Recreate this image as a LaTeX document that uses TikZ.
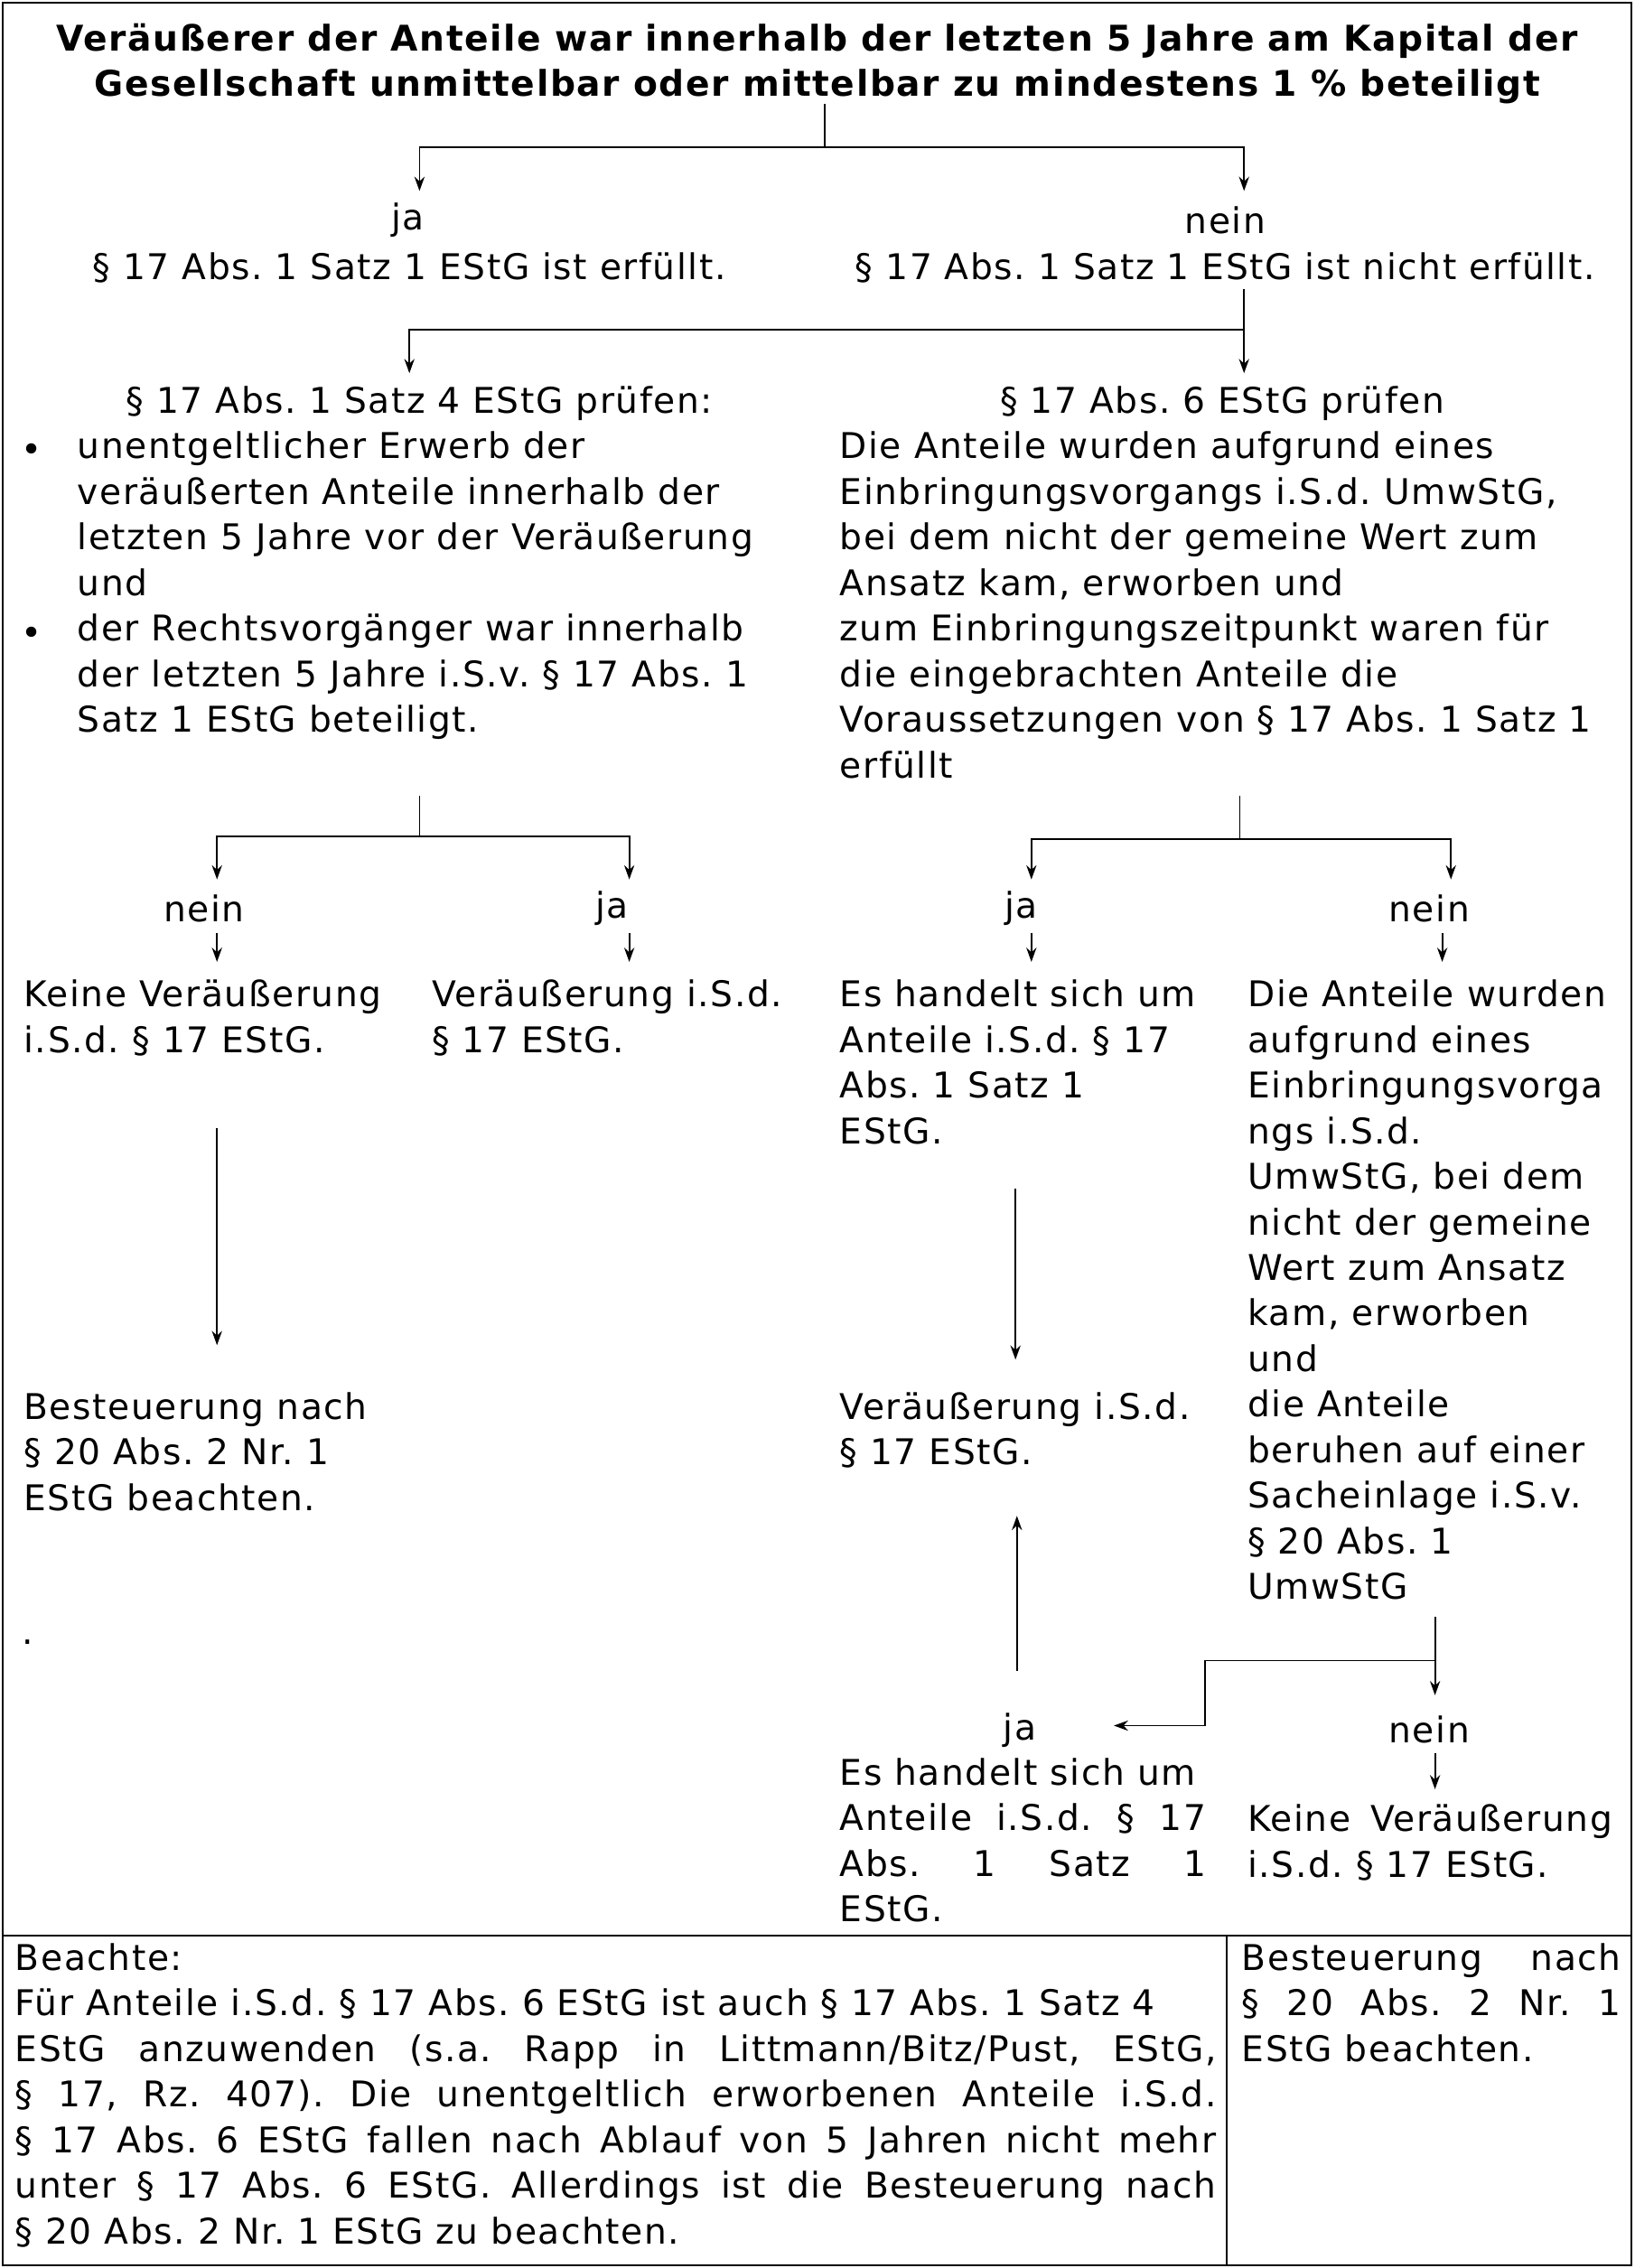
\documentclass[tikz,border=0pt]{standalone}
\usepackage{fontspec}
\setmainfont[LetterSpace=4]{DejaVu Sans}
\usetikzlibrary{arrows.meta}
\newcommand{\jl}[2]{\makebox[#1][s]{#2}}
\frenchspacing

\begin{document}
\begin{tikzpicture}[x=0.025cm, y=-0.025cm, >={Stealth[length=7pt,width=5pt]},
	txt/.style={inner sep=0pt, font=\fontsize{17.4}{22.4}\selectfont},
	blk/.style={txt, anchor=north west, align=left},
	ctr/.style={txt, anchor=center},
	thick]
	\useasboundingbox (0,0) rectangle (1130,1568);
	\draw (2,2) rectangle (1128,1566);
	\draw (2,1338) -- (1128,1338);
	\draw (848,1338) -- (848,1566);
	% title
	\node[txt, align=center, font=\fontsize{17.4}{22.4}\selectfont\bfseries] (title) at (565,44)
	 {Veräußerer der Anteile war innerhalb der letzten 5 Jahre am Kapital der\\Gesellschaft unmittelbar oder mittelbar zu mindestens 1 \% beteiligt};
	\draw (570,72)--(570,102);
	\draw[->] (570,102)--(290,102)--(290,132);
	\draw[->] (570,102)--(860,102)--(860,132);
	\node[ctr] (ja1) at (282,152) {ja};
	\node[ctr] (erf) at (283,185) {§ 17 Abs. 1 Satz 1 EStG ist erfüllt.};
	\node[ctr] (nein1) at (847,152) {nein};
	\node[ctr] (nerf) at (847,185) {§ 17 Abs. 1 Satz 1 EStG ist nicht erfüllt.};
	\draw (860,200)--(860,228);
	\draw[->] (860,228)--(283,228)--(283,258);
	\draw[->] (860,228)--(860,258);
	% left check
	\node[ctr] (p4) at (290,279) {§ 17 Abs. 1 Satz 4 EStG prüfen:};
	\node[blk] (p4a) at (53,298) {unentgeltlicher Erwerb der\\veräußerten Anteile innerhalb der\\letzten 5 Jahre vor der Veräußerung\\und\\der Rechtsvorgänger war innerhalb\\der letzten 5 Jahre i.S.v. § 17 Abs. 1\\Satz 1 EStG beteiligt.};
	\node[ctr] at (22,313) {\textbullet};
	\node[ctr] at (22,440) {\textbullet};
	% right check
	\node[ctr] (p6) at (845,279) {§ 17 Abs. 6 EStG prüfen};
	\node[blk] (p6a) at (580,298) {Die Anteile wurden aufgrund eines\\Einbringungsvorgangs i.S.d. UmwStG,\\bei dem nicht der gemeine Wert zum\\Ansatz kam, erworben und\\zum Einbringungszeitpunkt waren für\\die eingebrachten Anteile die\\Voraussetzungen von § 17 Abs. 1 Satz 1\\erfüllt};
	% left branch
	\draw (290,550)--(290,578);
	\draw[->] (290,578)--(150,578)--(150,608);
	\draw[->] (290,578)--(435,578)--(435,608);
	\node[ctr] (nein2) at (141,628) {nein};
	\node[ctr] (ja2) at (423,628) {ja};
	\draw[->] (150,645)--(150,665);
	\draw[->] (435,645)--(435,665);
	\node[blk] (kv1) at (16,677) {Keine Veräußerung\\i.S.d. § 17 EStG.};
	\node[blk] (v1) at (298,677) {Veräußerung i.S.d.\\§ 17 EStG.};
	\draw[->] (150,780)--(150,930);
	\node[blk] (bst1) at (16,962) {Besteuerung nach\\§ 20 Abs. 2 Nr. 1\\EStG beachten.};
	\node[ctr] (dot) at (19,1135) {.};
	% right branch
	\draw (857,550)--(857,580);
	\draw[->] (857,580)--(713,580)--(713,608);
	\draw[->] (857,580)--(1003,580)--(1003,608);
	\node[ctr] (ja3) at (706,628) {ja};
	\node[ctr] (nein3) at (988,628) {nein};
	\draw[->] (713,645)--(713,665);
	\draw[->] (997,645)--(997,665);
	\node[blk] (es1) at (580,677) {Es handelt sich um\\Anteile i.S.d. § 17\\Abs. 1 Satz 1\\EStG.};
	\node[blk] (ein) at (862,677) {Die Anteile wurden\\aufgrund eines\\Einbringungsvorga\\ngs i.S.d.\\UmwStG, bei dem\\nicht der gemeine\\Wert zum Ansatz\\kam, erworben\\und\\die Anteile\\beruhen auf einer\\Sacheinlage i.S.v.\\§ 20 Abs. 1\\UmwStG};
	\draw[->] (702,822)--(702,940);
	\node[blk] (v2) at (580,962) {Veräußerung i.S.d.\\§ 17 EStG.};
	\draw[->] (703,1155)--(703,1048);
	\draw (992,1118)--(992,1148);
	\draw[->] (992,1148)--(992,1172);
	\draw[->] (992,1148)--(833,1148)--(833,1193)--(770,1193);
	\node[ctr] (ja4) at (705,1196) {ja};
	\node[ctr] (nein4) at (988,1196) {nein};
	\draw[->] (992,1212)--(992,1237);
	\node[blk] (es2) at (580,1215) {Es handelt sich um\\\jl{6.325cm}{Anteile i.S.d. § 17}\\\jl{6.325cm}{Abs. 1 Satz 1}\\EStG.};
	\node[blk] (kv2) at (862,1247) {\jl{6.3cm}{Keine Veräußerung}\\i.S.d. § 17 EStG.};
	% bottom notes
	\node[blk] (bea) at (10,1343) {Beachte:\\Für Anteile i.S.d. § 17 Abs. 6 EStG ist auch § 17 Abs. 1 Satz 4\\\jl{20.75cm}{EStG anzuwenden (s.a. Rapp in Littmann/Bitz/Pust, EStG,}\\\jl{20.75cm}{§ 17, Rz. 407). Die unentgeltlich erworbenen Anteile i.S.d.}\\\jl{20.75cm}{§ 17 Abs. 6 EStG fallen nach Ablauf von 5 Jahren nicht mehr}\\\jl{20.75cm}{unter § 17 Abs. 6 EStG. Allerdings ist die Besteuerung nach}\\§ 20 Abs. 2 Nr. 1 EStG zu beachten.};
	\node[blk] (bst2) at (858,1343) {\jl{6.55cm}{Besteuerung nach}\\\jl{6.55cm}{§ 20 Abs. 2 Nr. 1}\\EStG beachten.};
\end{tikzpicture}
\end{document}
